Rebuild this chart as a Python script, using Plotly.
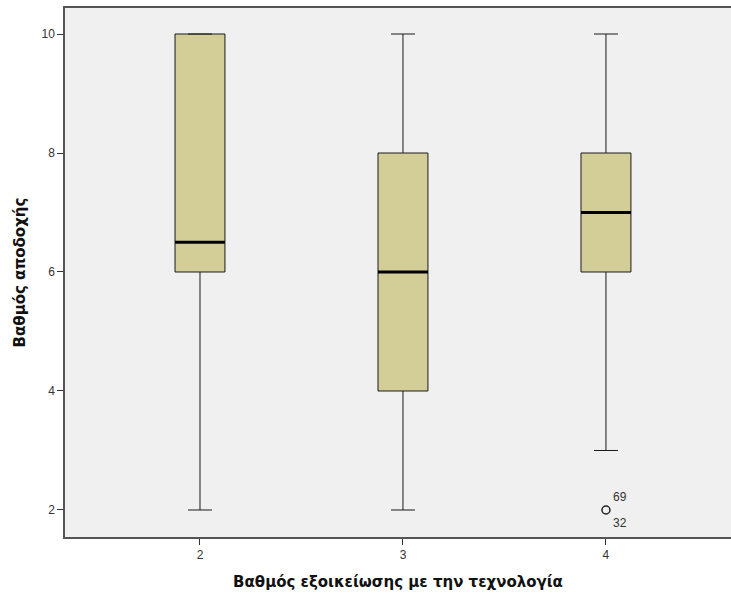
import plotly.graph_objects as go

# Acceptance score by level of familiarity with technology
familiarity = [2, 3, 4]
q1 = [6, 4, 6]
median = [6.5, 6, 7]
q3 = [10, 8, 8]
lower_whisker = [2, 2, 3]
upper_whisker = [10, 10, 10]

outlier_x = [4]
outlier_y = [2]
outlier_cases = ["69", "32"]

box_fill = "#D3CE97"
edge = "#1a1a1a"
box_width = 0.246
title_font = "DejaVu Sans, Verdana, sans-serif"

fig = go.Figure()

fig.add_trace(go.Box(
    x=familiarity,
    q1=q1, median=median, q3=q3,
    lowerfence=lower_whisker, upperfence=upper_whisker,
    width=box_width,
    whiskerwidth=0.48,
    fillcolor=box_fill,
    line=dict(color=edge, width=1),
    showlegend=False,
    hoverinfo="skip",
))

# heavier median bars
for xi, m in zip(familiarity, median):
    fig.add_trace(go.Scatter(
        x=[xi - box_width / 2, xi + box_width / 2], y=[m, m],
        mode="lines", line=dict(color="black", width=3),
        showlegend=False, hoverinfo="skip",
    ))

# outlier point
fig.add_trace(go.Scatter(
    x=outlier_x, y=outlier_y, mode="markers",
    marker=dict(symbol="circle-open", size=8, color="#222", line=dict(width=1.5)),
    showlegend=False, hoverinfo="skip",
))

# case numbers next to the outlier
for label, shift in zip(outlier_cases, [13, -13]):
    fig.add_annotation(
        x=outlier_x[0], y=outlier_y[0], text=label, showarrow=False,
        xanchor="left", yanchor="middle", xshift=5, yshift=shift,
        font=dict(family="Liberation Sans, Arial, sans-serif", size=12, color="#333"),
    )

fig.update_layout(
    width=731, height=594,
    margin=dict(l=65, r=0, t=8, b=57),
    paper_bgcolor="white",
    plot_bgcolor="#F0F0F0",
    font=dict(family="Liberation Sans, Arial, sans-serif", size=12, color="#333"),
)

fig.update_xaxes(
    range=[1.335, 4.616],
    tickvals=familiarity, ticktext=[str(v) for v in familiarity],
    ticks="outside", ticklen=6, tickcolor="#333", tickwidth=1,
    showgrid=False, zeroline=False,
    showline=True, linecolor="#555", linewidth=1.5, mirror=True,
    title=dict(text="<b>Βαθμός εξοικείωσης με την τεχνολογία</b>",
               font=dict(family=title_font, size=15, color="#111"), standoff=15),
)
fig.update_yaxes(
    range=[1.546, 10.437],
    tickvals=[2, 4, 6, 8, 10],
    ticks="outside", ticklen=6, tickcolor="#333", tickwidth=1,
    showgrid=False, zeroline=False,
    showline=True, linecolor="#555", linewidth=1.5, mirror=False,
    title=dict(text="<b>Βαθμός αποδοχής</b>",
               font=dict(family=title_font, size=15, color="#111"), standoff=12),
)

# keep the page free of scrollbars so the full figure width is shown
page_js = (
    "document.documentElement.style.overflow='hidden';"
    "document.body.style.margin='0';document.body.style.overflow='hidden';"
)

fig.write_html("out.html", post_script=page_js)
